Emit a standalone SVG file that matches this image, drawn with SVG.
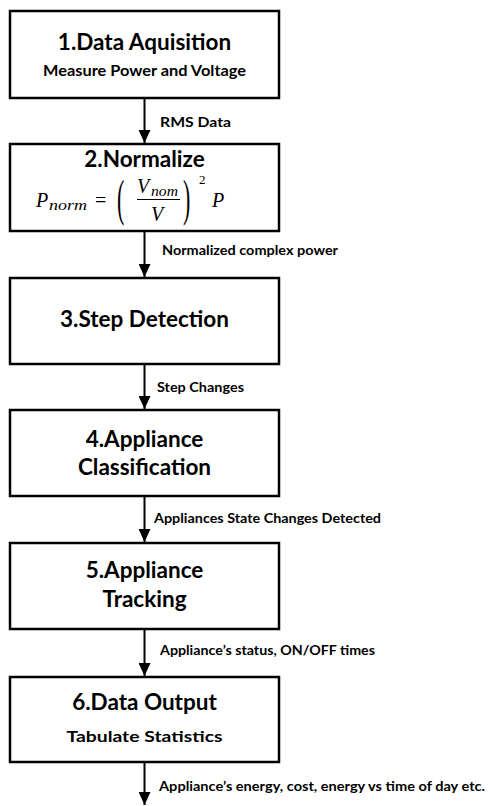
<svg xmlns="http://www.w3.org/2000/svg" width="488" height="806" viewBox="0 0 488 806">
  <style>
    .box { fill: #ffffff; stroke: #000000; stroke-width: 2.5; }
    .title { font-family: Lato, "Open Sans", sans-serif; font-weight: bold; font-size: 22.5px; text-anchor: middle; fill: #000; }
    .sub { font-family: Lato, "Open Sans", sans-serif; font-weight: bold; font-size: 16px; text-anchor: middle; fill: #000; }
    .lbl { font-family: Lato, "Open Sans", sans-serif; font-weight: bold; font-size: 13.5px; fill: #000; }
    .conn { stroke: #000; stroke-width: 2; fill: none; marker-end: url(#arrow); }
    .math { font-family: "Liberation Serif", serif; font-style: italic; fill: #000; }
    .mathr { font-family: "Liberation Serif", serif; fill: #000; }
  </style>
  <defs>
    <marker id="arrow" markerUnits="userSpaceOnUse" markerWidth="14" markerHeight="12" refX="13" refY="6" orient="auto">
      <path d="M0,0 L13,6 L0,12 Z" fill="#000"/>
    </marker>
  </defs>
  <rect width="488" height="806" fill="#ffffff"/>

  <!-- connectors -->
  <g id="connectors">
    <line class="conn" x1="144.5" y1="98" x2="144.5" y2="143"/>
    <line class="conn" x1="144.5" y1="231" x2="144.5" y2="277"/>
    <line class="conn" x1="144.5" y1="364" x2="144.5" y2="409"/>
    <line class="conn" x1="144.5" y1="496" x2="144.5" y2="542"/>
    <line class="conn" x1="144.5" y1="629" x2="144.5" y2="676"/>
    <line class="conn" x1="144.5" y1="762" x2="144.5" y2="805"/>
    <text class="lbl" x="160" y="127" textLength="71" lengthAdjust="spacingAndGlyphs">RMS Data</text>
    <text class="lbl" x="162" y="255" textLength="176" lengthAdjust="spacingAndGlyphs">Normalized complex power</text>
    <text class="lbl" x="157" y="392" textLength="87" lengthAdjust="spacingAndGlyphs">Step Changes</text>
    <text class="lbl" x="154" y="523" textLength="227" lengthAdjust="spacingAndGlyphs">Appliances State Changes Detected</text>
    <text class="lbl" x="160" y="655" textLength="215" lengthAdjust="spacingAndGlyphs">Appliance’s status, ON/OFF times</text>
    <text class="lbl" x="159" y="791" textLength="326" lengthAdjust="spacingAndGlyphs">Appliance’s energy, cost, energy vs time of day etc.</text>
  </g>

  <g id="acquisition">
    <rect class="box" x="10" y="11" width="269" height="87"/>
    <text class="title" x="144.5" y="50">1.Data Aquisition</text>
    <text class="sub" x="144.5" y="76" textLength="203" lengthAdjust="spacingAndGlyphs">Measure Power and Voltage</text>
  </g>

  <g id="normalize">
    <rect class="box" x="10" y="144" width="269" height="87"/>
    <text class="title" x="144.5" y="167">2.Normalize</text>
    <!-- P_norm = (V_nom / V)^2 P -->
    <text class="math" x="36" y="207" font-size="20">P</text>
    <text class="math" x="49" y="210" font-size="14" textLength="38" lengthAdjust="spacingAndGlyphs">norm</text>
    <text class="mathr" x="95" y="207" font-size="20">=</text>
    <text class="mathr" font-size="22" transform="translate(117,215) scale(1,2.3)">(</text>
    <text class="math" x="137" y="193" font-size="20">V</text>
    <text class="math" x="151" y="196" font-size="14" textLength="27" lengthAdjust="spacingAndGlyphs">nom</text>
    <line x1="137" y1="199.5" x2="180" y2="199.5" stroke="#000" stroke-width="1"/>
    <text class="math" x="151" y="221" font-size="20">V</text>
    <text class="mathr" font-size="22" transform="translate(183,215) scale(1,2.3)">)</text>
    <text class="mathr" x="199" y="184" font-size="13">2</text>
    <text class="math" x="212" y="207" font-size="20">P</text>
  </g>

  <g id="step-detection">
    <rect class="box" x="10" y="278" width="269" height="86"/>
    <text class="title" x="144.5" y="327">3.Step Detection</text>
  </g>

  <g id="classification">
    <rect class="box" x="10" y="410" width="269" height="86"/>
    <text class="title" x="144.5" y="447">4.Appliance</text>
    <text class="title" x="144.5" y="475">Classification</text>
  </g>

  <g id="tracking">
    <rect class="box" x="10" y="543" width="269" height="86"/>
    <text class="title" x="144.5" y="578">5.Appliance</text>
    <text class="title" x="144.5" y="607">Tracking</text>
  </g>

  <g id="data-output">
    <rect class="box" x="10" y="677" width="269" height="85"/>
    <text class="title" x="144.5" y="710">6.Data Output</text>
    <text class="sub" x="144.5" y="742" textLength="156" lengthAdjust="spacingAndGlyphs">Tabulate Statistics</text>
  </g>
</svg>
